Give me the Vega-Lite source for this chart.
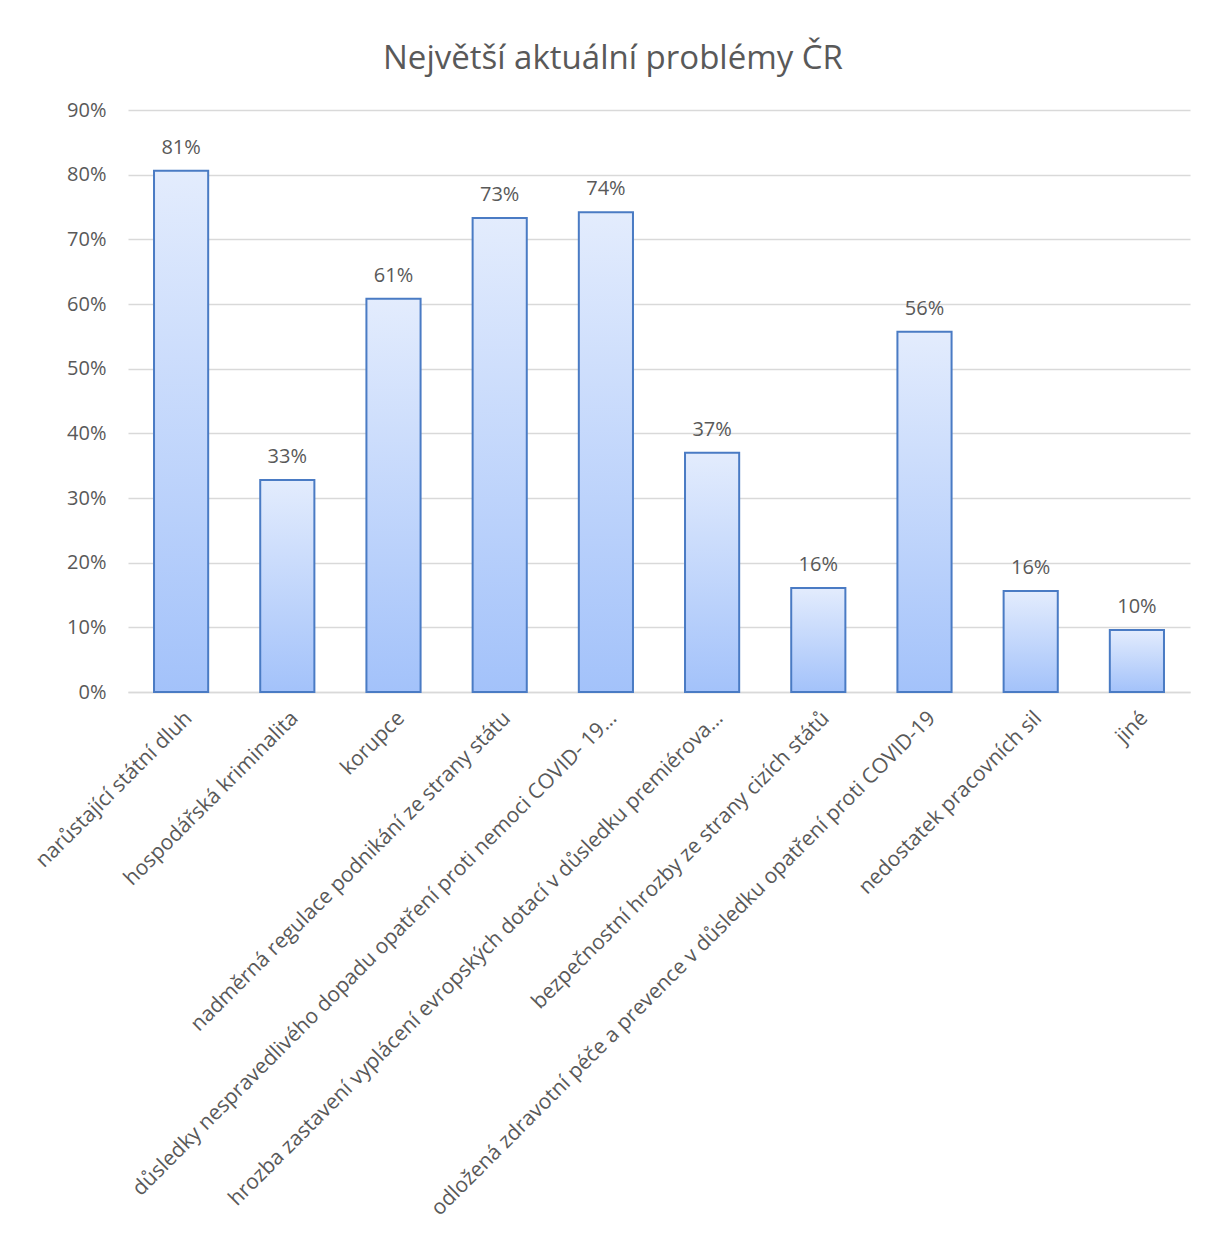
{
  "$schema": "https://vega.github.io/schema/vega-lite/v6.json",
  "width": 1062,
  "height": 582,
  "autosize": {"type": "none"},
  "padding": {"left": 128, "top": 110, "right": 24, "bottom": 542},
  "background": "white",
  "title": {
    "text": "Největší aktuální problémy ČR",
    "font": "Open Sans",
    "fontSize": 33,
    "fontWeight": "normal",
    "color": "#595959",
    "anchor": "middle",
    "dx": -46,
    "offset": 24
  },
  "data": {
    "values": [
      {"problem": "narůstající státní dluh", "value": 0.806},
      {"problem": "hospodářská kriminalita", "value": 0.328},
      {"problem": "korupce", "value": 0.608},
      {"problem": "nadměrná regulace podnikání ze strany státu", "value": 0.733},
      {"problem": "důsledky nespravedlivého dopadu opatření proti nemoci COVID- 19…", "value": 0.742},
      {"problem": "hrozba zastavení vyplácení evropských dotací v důsledku premiérova…", "value": 0.37},
      {"problem": "bezpečnostní hrozby ze strany cizích států", "value": 0.161},
      {"problem": "odložená zdravotní péče a prevence v důsledku opatření proti COVID-19", "value": 0.557},
      {"problem": "nedostatek pracovních sil", "value": 0.156},
      {"problem": "jiné", "value": 0.096}
    ]
  },
  "encoding": {
    "x": {
      "field": "problem",
      "type": "nominal",
      "sort": null,
      "title": null,
      "scale": {"paddingInner": 0.49, "paddingOuter": 0.245},
      "axis": {
        "labelAngle": -45,
        "labelLimit": 1000,
        "labelFont": "Open Sans",
        "labelFontSize": 21,
        "labelColor": "#595959",
        "labelPadding": 15,
        "ticks": false,
        "domainColor": "#d9d9d9",
        "domainWidth": 1.5
      }
    },
    "y": {
      "field": "value",
      "type": "quantitative",
      "title": null,
      "scale": {"domain": [0, 0.9], "nice": false},
      "axis": {
        "format": ".0%",
        "values": [0, 0.1, 0.2, 0.3, 0.4, 0.5, 0.6, 0.7, 0.8, 0.9],
        "labelFont": "Open Sans",
        "labelFontSize": 20,
        "labelColor": "#595959",
        "labelPadding": 22,
        "ticks": false,
        "domain": false,
        "gridColor": "#d9d9d9",
        "gridWidth": 1.5
      }
    }
  },
  "layer": [
    {
      "mark": {
        "type": "bar",
        "stroke": "#4a7bc4",
        "strokeWidth": 2,
        "fill": {
          "gradient": "linear",
          "x1": 0, "y1": 0, "x2": 0, "y2": 1,
          "stops": [
            {"offset": 0, "color": "#e3ecfd"},
            {"offset": 1, "color": "#a3c2fa"}
          ]
        }
      }
    },
    {
      "mark": {
        "type": "text",
        "font": "Open Sans",
        "fontSize": 20,
        "color": "#595959",
        "baseline": "bottom",
        "dy": -13
      },
      "encoding": {
        "text": {"field": "value", "type": "quantitative", "format": ".0%"}
      }
    }
  ],
  "config": {"view": {"stroke": null}}
}
